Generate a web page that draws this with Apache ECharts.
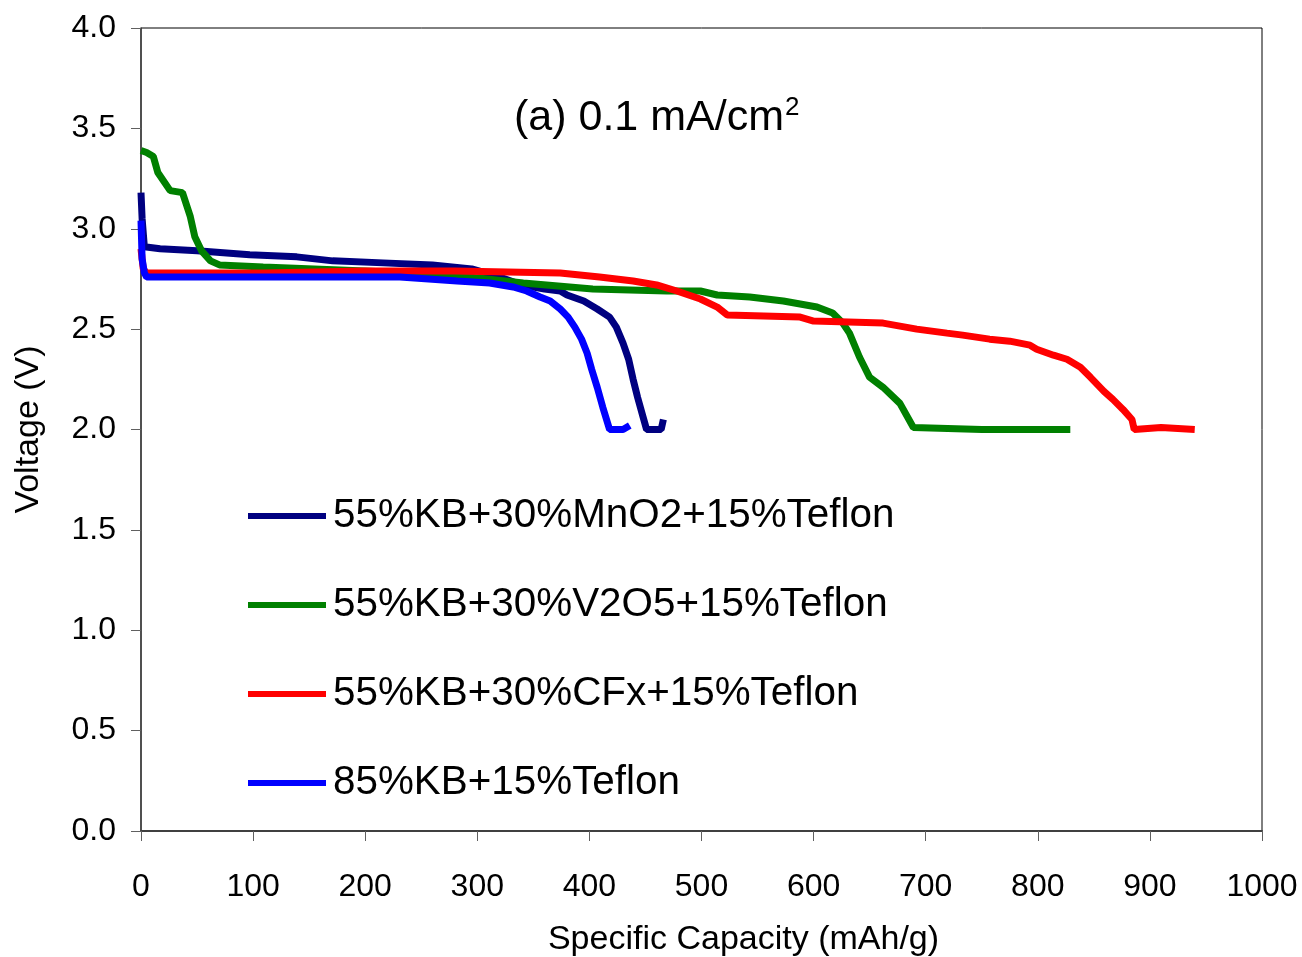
<!DOCTYPE html>
<html>
<head>
<meta charset="utf-8">
<script src="https://cdn.jsdelivr.net/npm/echarts@6/dist/echarts.min.js"></script>
<style>
  html, body { margin: 0; padding: 0; background: #fff; }
  #chart { width: 1302px; height: 957px; }
</style>
</head>
<body>
<div id="chart"></div>
<script>
// series names (legend order)
const seriesNames = [
  '55%KB+30%MnO2+15%Teflon',
  '55%KB+30%V2O5+15%Teflon',
  '55%KB+30%CFx+15%Teflon',
  '85%KB+15%Teflon'
]

// MnO2 curve: specific capacity (mAh/g) and voltage (V)
const mno2Cap = [0, 1, 3, 17, 50, 97, 139, 171, 216, 260, 295, 320, 340, 360, 374, 380, 395, 407, 418, 424, 430, 435, 439, 443, 448, 451, 460, 464, 466]
const mno2Volt = [3.18, 3.05, 2.91, 2.90, 2.89, 2.87, 2.86, 2.84, 2.83, 2.82, 2.80, 2.76, 2.72, 2.70, 2.69, 2.67, 2.64, 2.60, 2.56, 2.51, 2.43, 2.35, 2.25, 2.16, 2.06, 2.00, 2.00, 2.00, 2.05]

// V2O5 curve
const v2o5Cap = [0, 5, 11, 15, 26, 37, 44, 48, 54, 62, 70, 109, 200, 276, 341, 403, 469, 499, 514, 543, 573, 603, 617, 626, 632, 641, 650, 662, 677, 689, 750, 829]
const v2o5Volt = [3.39, 3.38, 3.36, 3.28, 3.19, 3.18, 3.06, 2.96, 2.89, 2.84, 2.82, 2.81, 2.79, 2.77, 2.73, 2.70, 2.69, 2.69, 2.67, 2.66, 2.64, 2.61, 2.58, 2.53, 2.48, 2.36, 2.26, 2.21, 2.13, 2.01, 2.00, 2.00]

// CFx curve
const cfxCap = [0, 2, 5, 109, 200, 280, 374, 409, 439, 460, 478, 499, 514, 523, 588, 600, 662, 692, 719, 733, 757, 775, 793, 799, 814, 826, 838, 847, 859, 867, 876, 884, 886, 910, 940]
const cfxVolt = [2.90, 2.80, 2.78, 2.78, 2.79, 2.79, 2.78, 2.76, 2.74, 2.72, 2.69, 2.65, 2.61, 2.57, 2.56, 2.54, 2.53, 2.50, 2.48, 2.47, 2.45, 2.44, 2.42, 2.40, 2.37, 2.35, 2.31, 2.26, 2.19, 2.15, 2.10, 2.05, 2.00, 2.01, 2.00]

// 85%KB curve
const kbCap = [0, 1, 3, 5, 120, 231, 282, 311, 332, 344, 356, 365, 374, 381, 387, 393, 398, 402, 407, 412, 418, 430, 436]
const kbVolt = [3.04, 2.85, 2.78, 2.76, 2.76, 2.76, 2.74, 2.73, 2.71, 2.69, 2.66, 2.64, 2.60, 2.56, 2.51, 2.45, 2.38, 2.30, 2.21, 2.11, 2.00, 2.00, 2.02]

const seriesColors = ['#000080', '#008000', '#ff0000', '#0000ff']
const font = 'Liberation Sans, Arial, sans-serif'

const pairs = (xs, ys) => xs.map((x, i) => [x, ys[i]])
const curves = [
  pairs(mno2Cap, mno2Volt),
  pairs(v2o5Cap, v2o5Volt),
  pairs(cfxCap, cfxVolt),
  pairs(kbCap, kbVolt)
]

const chart = echarts.init(document.getElementById('chart'))

chart.setOption({
  animation: false,
  backgroundColor: '#fff',
  title: {
    text: '{a|(a) 0.1 mA/cm}{sup|2}',
    left: 514,
    top: 95,
    padding: 0,
    textStyle: {
      fontWeight: 'normal',
      rich: {
        a: { fontFamily: font, fontSize: 43, fontWeight: 'normal', color: '#000' },
        sup: { fontFamily: font, fontSize: 26, fontWeight: 'normal', color: '#000', verticalAlign: 'top', padding: [0, 0, 21, 1] }
      }
    }
  },
  legend: {
    data: seriesNames,
    orient: 'vertical',
    left: 248,
    top: 494,
    padding: 0,
    icon: 'rect',
    itemWidth: 78,
    itemHeight: 6,
    itemGap: 45,
    textStyle: { fontFamily: font, fontSize: 40.4, color: '#000', lineHeight: 44, padding: [0, 0, 0, 2] }
  },
  grid: {
    left: 141,
    right: 40,
    top: 28,
    bottom: 126,
    outerBoundsMode: 'none',
    containLabel: false,
    show: true,
    borderColor: '#000',
    borderWidth: 1
  },
  xAxis: {
    type: 'value',
    min: 0,
    max: 1000,
    interval: 100,
    name: 'Specific Capacity (mAh/g)',
    nameLocation: 'middle',
    nameGap: 92,
    nameTextStyle: { fontFamily: font, fontSize: 34, color: '#000', padding: [0, 0, 0, 84] },
    axisLine: { show: true, lineStyle: { color: '#404040', width: 2 } },
    axisTick: { show: true, inside: false, length: 10, lineStyle: { color: '#606060' } },
    axisLabel: { fontFamily: font, fontSize: 32, color: '#000', margin: 40, formatter: v => String(v) },
    splitLine: { show: false }
  },
  yAxis: {
    type: 'value',
    min: 0,
    max: 4,
    interval: 0.5,
    name: 'Voltage (V)',
    nameLocation: 'middle',
    nameGap: 95,
    nameTextStyle: { fontFamily: font, fontSize: 34, color: '#000' },
    axisLine: { show: true, lineStyle: { color: '#404040', width: 1.5 } },
    axisTick: { show: true, inside: false, length: 10, lineStyle: { color: '#606060' } },
    axisLabel: { fontFamily: font, fontSize: 32, color: '#000', margin: 25, formatter: v => v.toFixed(1) },
    splitLine: { show: false }
  },
  series: curves.map((data, i) => ({
    name: seriesNames[i],
    type: 'line',
    data: data,
    showSymbol: false,
    symbol: 'none',
    color: seriesColors[i],
    lineStyle: { width: 7, color: seriesColors[i] },
    z: 2 + i
  }))
})
</script>
</body>
</html>
